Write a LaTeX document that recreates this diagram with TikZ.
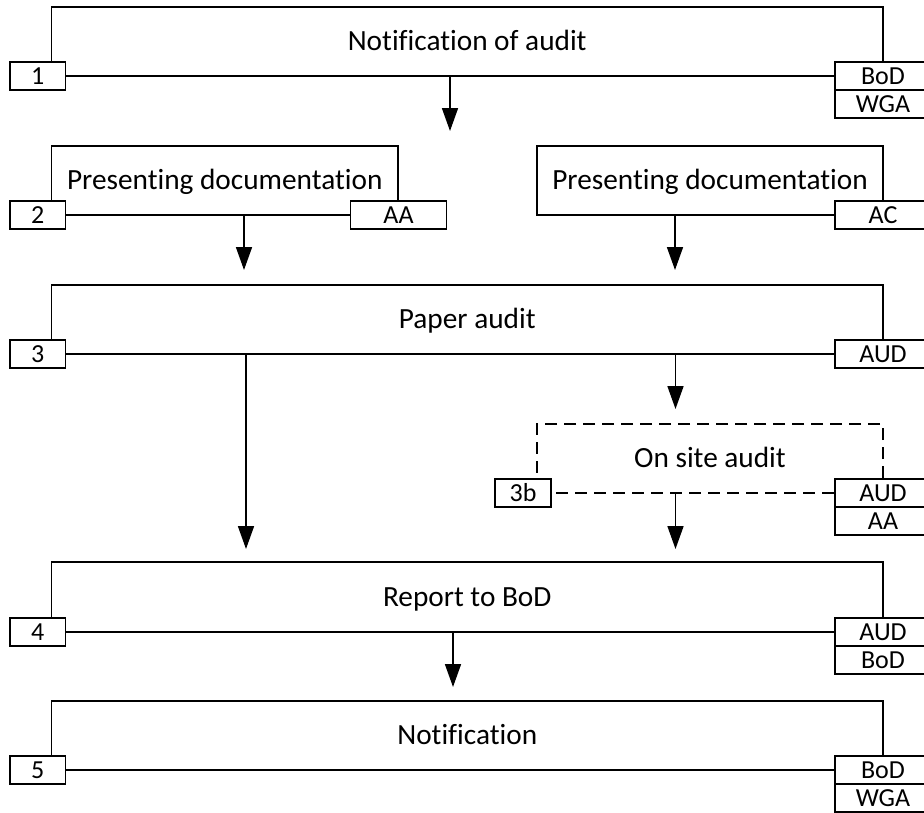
\documentclass[tikz,border=0pt]{standalone}
\usepackage{fontspec}
\setmainfont{Carlito}[Ligatures=NoCommon]
\usetikzlibrary{arrows.meta}
\begin{document}
\begin{tikzpicture}[x=1pt,y=-1pt,
  line width=1.7pt,
  block/.style={draw, rectangle, inner sep=0pt, outer sep=0pt, minimum height=69pt,
    font=\fontsize{29.3}{34}\selectfont, text height=18.9pt, text depth=0pt},
  tagbox/.style={draw, fill=white, rectangle, inner sep=0pt, outer sep=0pt,
    minimum height=28pt, font=\fontsize{26}{30}\selectfont, text height=16.7pt, text depth=0pt},
  ltag/.style={tagbox, minimum width=55.5pt},
  rtag/.style={tagbox, minimum width=96pt},
  flow/.style={-{Triangle[width=16pt,length=23pt]}}]
\useasboundingbox (0,0) rectangle (924,812);
\fill[white] (0,0) rectangle (924,812);
\clip (0,0) rectangle (924,812);

% process steps
\node[block, minimum width=831.5pt] (b1) at (467.25,41.5) {Notification of audit};
\node[block, minimum width=346.5pt] (b2l) at (224.75,180.5) {Presenting documentation};
\node[block, minimum width=346pt] (b2r) at (710,180.5) {Presenting documentation};
\node[block, minimum width=831.5pt] (b3) at (467.25,319.5) {Paper audit};
\node[block, dashed, dash pattern=on 12pt off 7pt, minimum width=346pt] (b3b) at (710,458.5) {On site audit};
\node[block, minimum width=831.5pt, minimum height=70pt] (b4) at (467.25,597) {Report to BoD};
\node[block, minimum width=831.5pt] (b5) at (467.25,735.5) {Notification};

% step numbers
\node[ltag] (n1) at (37.75,76) {1};
\node[ltag] (n2) at (37.75,215) {2};
\node[ltag] (n3) at (37.75,354) {3};
\node[ltag, minimum width=56pt] (n3b) at (523,493) {3b};
\node[ltag] (n4) at (37.75,632) {4};
\node[ltag] (n5) at (37.75,770) {5};

% responsible parties
\node[rtag] (r1a) at (883,76) {BoD};
\node[rtag, anchor=north] (r1b) at (r1a.south) {WGA};
\node[rtag] (r2l) at (398.5,215) {AA};
\node[rtag] (r2r) at (883,215) {AC};
\node[rtag] (r3) at (883,354) {AUD};
\node[rtag] (r3ba) at (883,493) {AUD};
\node[rtag, anchor=north] (r3bb) at (r3ba.south) {AA};
\node[rtag] (r4a) at (883,632) {AUD};
\node[rtag, anchor=north] (r4b) at (r4a.south) {BoD};
\node[rtag] (r5a) at (883,770) {BoD};
\node[rtag, anchor=north] (r5b) at (r5a.south) {WGA};

% arrow ends
\coordinate (e1) at (450,131);
\coordinate (e2l) at (244,270);
\coordinate (e2r) at (675,270);
\coordinate (e3l) at (246,549);
\coordinate (e3r) at (675.5,409);
\coordinate (e3b) at (675.5,549);
\coordinate (e4) at (453,687);

\draw[flow] (b1.south -| e1) -- (e1);
\draw[flow] (b2l.south -| e2l) -- (e2l);
\draw[flow] (b2r.south -| e2r) -- (e2r);
\draw[flow] (b3.south -| e3l) -- (e3l);
\draw[flow] (b3.south -| e3r) -- (e3r);
\draw[flow] (b3b.south -| e3b) -- (e3b);
\draw[flow] (b4.south -| e4) -- (e4);
\end{tikzpicture}
\end{document}
